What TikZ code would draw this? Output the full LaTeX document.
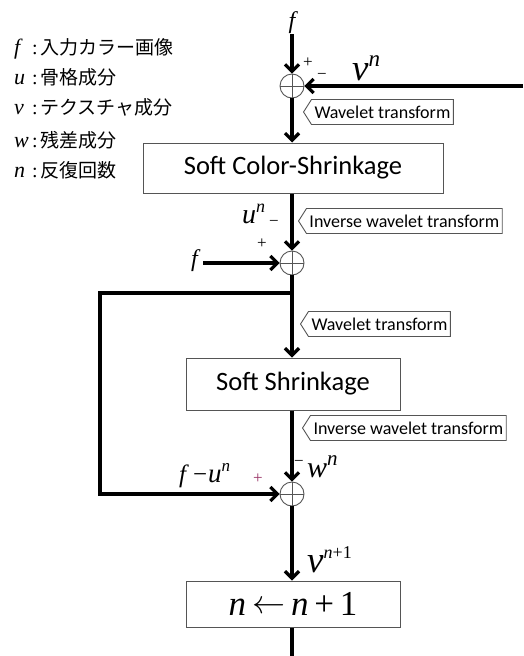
\documentclass[tikz,border=0pt]{standalone}
\usepackage{fontspec}
\usepackage{graphicx}
\setmainfont{Liberation Serif}
\newfontfamily\calfont{Carlito}
\newfontfamily\jpfont{Noto Sans CJK JP}
\usetikzlibrary{arrows.meta,shapes.symbols}
\definecolor{edgegray}{HTML}{555555}
\definecolor{plumred}{HTML}{993366}
\newcommand\fsz[1]{\fontsize{#1}{#1}\selectfont}
\tikzset{
 flow/.style={line width=3.2pt, line join=miter, -{Straight Barb[length=7pt,width=14pt]}},
 plainline/.style={line width=3.2pt},
 sumnode/.style={circle, draw=edgegray, line width=0.9pt, minimum size=24pt, inner sep=0pt,
   path picture={\draw[edgegray, line width=0.7pt] (path picture bounding box.north) -- (path picture bounding box.south)
     (path picture bounding box.west) -- (path picture bounding box.east);}},
 procbox/.style={draw=edgegray, line width=1pt, font=\calfont\fsz{26.5}, inner sep=0pt},
 callout/.style={signal, signal to=west, signal pointer angle=115, draw=edgegray, line width=0.9pt,
   font=\calfont\fsz{18}, inner xsep=3pt, inner ysep=2pt, minimum height=25pt, anchor=west},
 mathlbl/.style={font=\itshape\fsz{24}, inner sep=0pt},
 signlbl/.style={font=\fsz{17}, inner sep=0pt},
 legend/.style={anchor=base west, inner sep=0pt},
}
\newcommand\legitem[2]{\makebox[18pt][l]{\fsz{22}\itshape #1}\makebox[8pt][l]{\fsz{20}:}{\jpfont\fsz{19}#2}}
\newcommand\bigleftarrow{\raisebox{2pt}{\scalebox{3.3}{\fsz{10}$\leftarrow$}}}
\begin{document}
\begin{tikzpicture}[x=1pt,y=-1pt]
\useasboundingbox (0,0) rectangle (523,656);
% legend
\node[legend] (lf) at (14,54) {\legitem{f}{入力カラー画像}};
\node[legend] (lu) at (14,84) {\legitem{u}{骨格成分}};
\node[legend] (lv) at (14,114) {\legitem{v}{テクスチャ成分}};
\node[legend] (lw) at (14,147) {\legitem{w}{残差成分}};
\node[legend] (ln) at (14,177) {\legitem{n}{反復回数}};
% main nodes
\node[mathlbl, anchor=base] (ftop) at (292,28) {f};
\node[sumnode] (c1) at (292,86) {};
\coordinate (vin) at (523,86);
\node[procbox, minimum width=300pt, minimum height=50pt] (b1) at (293,168) {Soft Color-Shrinkage};
\node[sumnode] (c2) at (292,263) {};
\coordinate (fin) at (203,263);
\node[mathlbl, anchor=base east] (fleft) at (198,266) {f};
\coordinate (br) at (292,293);
\coordinate (bl) at (100,293);
\coordinate (bb) at (100,494);
\node[procbox, minimum width=214pt, minimum height=52pt] (b2) at (293,384) {Soft Shrinkage};
\node[sumnode] (c3) at (292,494) {};
\node[procbox, font=\itshape\fsz{35}, minimum width=214pt, minimum height=46pt] (b3) at (293,604)
  {n\hspace{6pt}\bigleftarrow\hspace{6pt}n\,{\upshape +}\,{\upshape 1}\hspace{12pt}};
\coordinate (bot) at (292,656);
% connectors
\draw[flow] ([yshift=-6pt]ftop.base) -- (c1.north);
\draw[flow] (vin) -- (c1.east);
\draw[flow] (c1.south) -- (b1.north -| c1);
\draw[flow] (b1.south -| c2) -- (c2.north);
\draw[flow] (fin) -- (c2.west);
\draw[flow] (c2.south) -- (b2.north -| c2);
\draw[flow] (br) -- (bl) -- (bb) -- (c3.west);
\draw[flow] (b2.south -| c3) -- (c3.north);
\draw[flow] (c3.south) -- (b3.north -| c3);
\draw[plainline] (b3.south -| c3) -- (bot);
% callouts
\node[callout] (w1) at (303,112) {Wavelet transform};
\node[callout] (iw1) at (298,221) {Inverse wavelet transform};
\node[callout] (w2) at (300,324) {Wavelet transform};
\node[callout] (iw2) at (302,428) {Inverse wavelet transform};
% signs and variable labels
\node[signlbl] (p1) at (308,63) {+};
\node[signlbl] (m1) at (322,76) {−};
\node[mathlbl, anchor=base west] (vn) at (352,80) {{\fsz{37}v}\raisebox{14pt}{\fsz{23}n}};
\node[mathlbl, anchor=base west] (un) at (242,223) {{\fsz{28}u}\raisebox{11pt}{\fsz{18}n}};
\node[signlbl] (m2) at (274,223) {−};
\node[signlbl] (p2) at (262,244) {+};
\node[mathlbl, anchor=base west] (fu) at (179,482) {{\fsz{25}f}\hspace{7pt}{\upshape\fsz{25}−}\hspace{1pt}{\fsz{27}u}\raisebox{11pt}{\fsz{17}n}};
\node[signlbl, text=plumred] (p3) at (258,479) {+};
\node[signlbl] (m3) at (299,463) {−};
\node[mathlbl, anchor=base west] (wn) at (307,477) {{\fsz{30}w}\raisebox{12pt}{\fsz{21}n}};
\node[mathlbl, anchor=base west] (vn1) at (307,572) {{\fsz{37}v}\raisebox{14pt}{\fsz{18}n{\upshape +1}}};
\end{tikzpicture}
\end{document}
